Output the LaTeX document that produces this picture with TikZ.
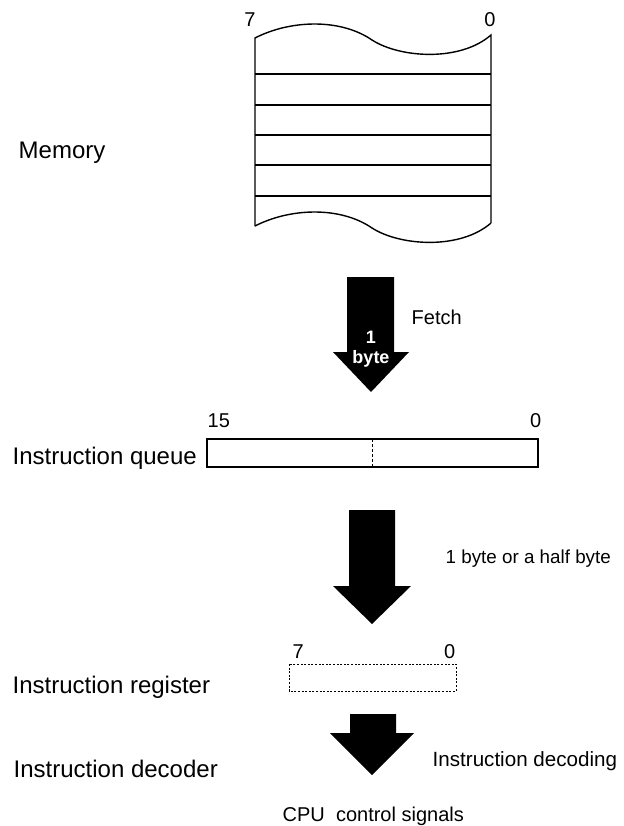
\documentclass[tikz,border=0pt]{standalone}
\usepackage{fontspec}
\setmainfont{Liberation Sans}
\tikzset{
  lbl/.style={font=\fontsize{12}{14}\selectfont, inner sep=0pt},
  txt/.style={font=\fontsize{10}{12}\selectfont, inner sep=0pt},
  num/.style={font=\fontsize{10}{12}\selectfont, inner sep=0pt},
  fat/.style={fill=black},
}
\begin{document}
\begin{tikzpicture}[x=0.5pt,y=-0.5pt,line width=0.7pt]
   \useasboundingbox (0,0) rectangle (623,826);
   % memory
   \draw (255,226) -- (255,38) .. controls (290,20) and (340,18) .. (372,40)
         .. controls (400,58) and (460,62) .. (491,35) -- (491,223);
   \draw (255,226) .. controls (290,208) and (340,206) .. (372,228)
         .. controls (400,246) and (460,250) .. (491,223);
   \foreach \y in {74,105,135,165,196}
     \draw (255,\y) -- (491,\y);
   \node[num, anchor=base] (m7) at (250,26) {7};
   \node[num, anchor=base] (m0) at (490,26) {0};
   \node[lbl, anchor=base west] (mem) at (18,158) {Memory};
   % fetch
   \fill[fat] (347,277) -- (394,277) -- (394,352) -- (409,352) -- (371,392)
         -- (333,352) -- (347,352) -- cycle;
   \node[txt, anchor=base, text=white, font=\fontsize{9}{11}\selectfont\bfseries] (one) at (371,343) {1};
   \node[txt, anchor=base, text=white, font=\fontsize{9}{11}\selectfont\bfseries] (byte) at (371,363) {byte};
   \node[txt, anchor=base west] (fetch) at (411,324) {Fetch};
   % queue
   \draw (207,439) rectangle (538,467);
   \draw[dash pattern=on 1.5pt off 1pt, line width=0.5pt] (372,439) -- (372,467);
   \node[num, anchor=base west] (q15) at (207,427) {15};
   \node[num, anchor=base east] (q0) at (542,427) {0};
   \node[lbl, anchor=base west] (queue) at (12,464) {Instruction queue};
   \fill[fat] (349,510) -- (395,510) -- (395,586) -- (411,586) -- (372,624)
         -- (333,586) -- (349,586) -- cycle;
   \node[txt, anchor=base west, font=\fontsize{9.4}{11}\selectfont] (half) at (445,563) {1 byte or a half byte};
   % register
   \draw[dash pattern=on 1pt off 0.8pt, line width=0.5pt] (289,664) rectangle (456,691);
   \node[num, anchor=base west] (r7) at (292,658) {7};
   \node[num, anchor=base east] (r0) at (456,658) {0};
   \node[lbl, anchor=base west] (reg) at (12,693) {Instruction register};
   % decoder
   \fill[fat] (350,714) -- (396,714) -- (396,733) -- (414,733) -- (372,775)
         -- (330,733) -- (350,733) -- cycle;
   \node[lbl, anchor=base west] (dec) at (13,777) {Instruction decoder};
   \node[txt, anchor=base west, font=\fontsize{10.3}{12}\selectfont] (decoding) at (432,766) {Instruction decoding};
   \node[txt, anchor=base west] (cpu) at (282,821) {CPU\ \ control signals};
\end{tikzpicture}
\end{document}
